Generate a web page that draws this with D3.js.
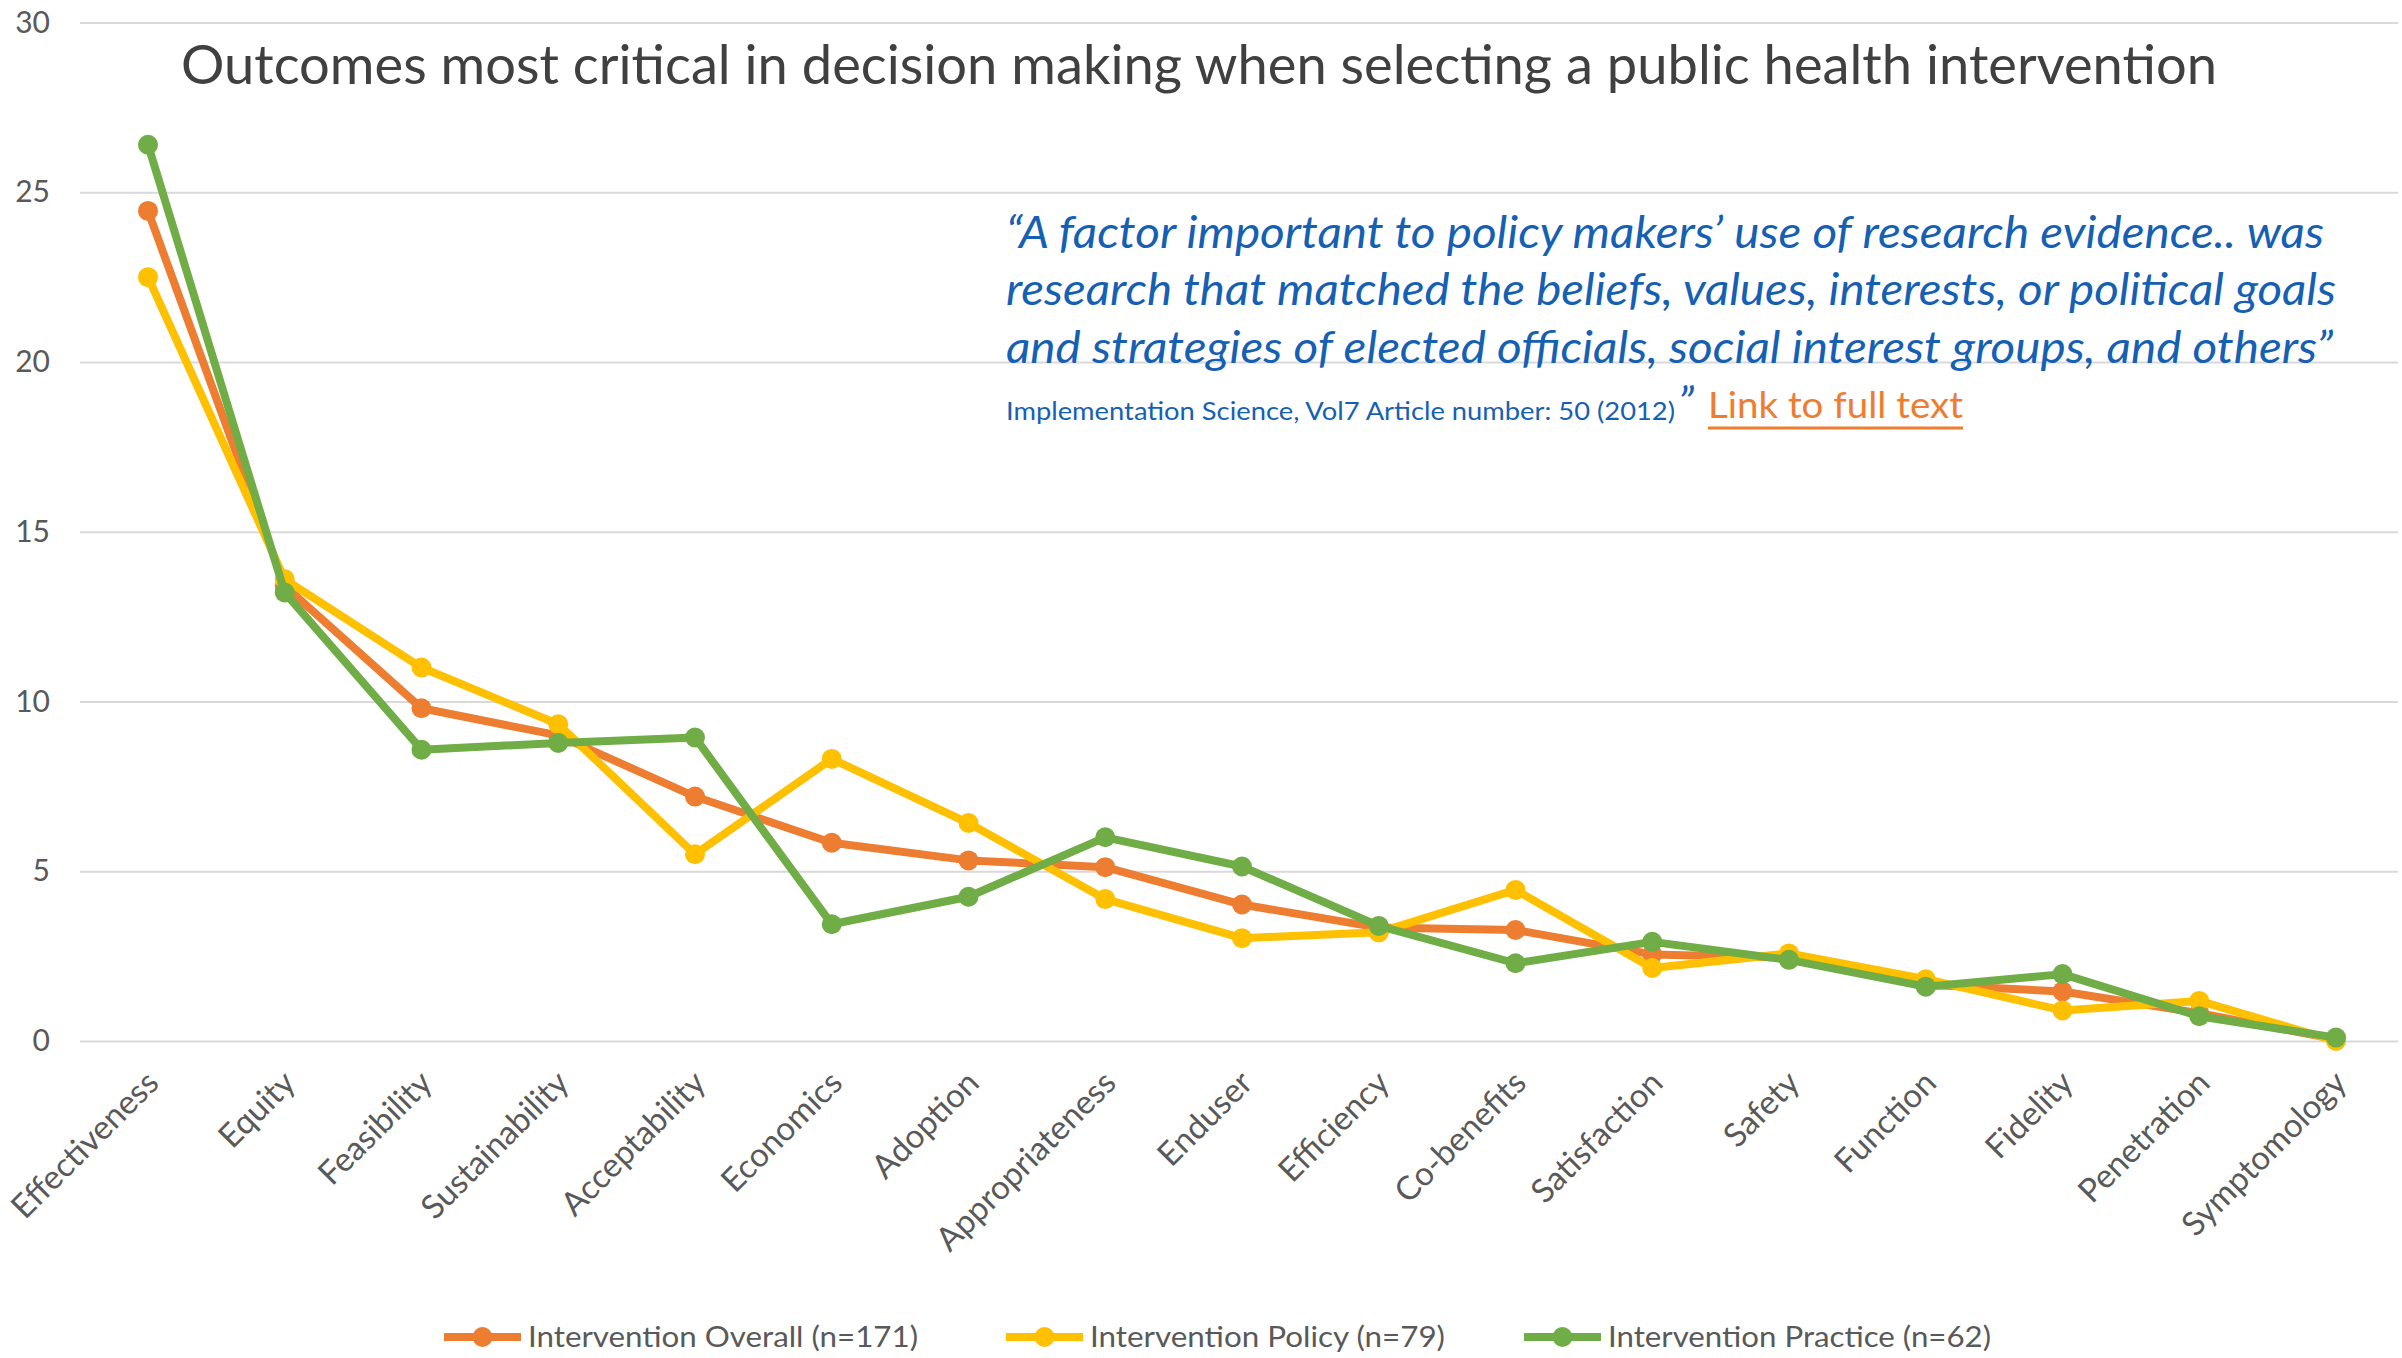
<!DOCTYPE html>
<html>
<head>
<meta charset="utf-8">
<script src="https://cdn.jsdelivr.net/npm/d3@7"></script>
<style>
  html, body { margin: 0; padding: 0; background: #fff; }
  svg { display: block; }
  text { font-family: Lato, "Open Sans", sans-serif; }
</style>
</head>
<body>
<svg id="chart" width="2402" height="1358"></svg>
<script>
const categories = ["Effectiveness","Equity","Feasibility","Sustainability","Acceptability","Economics","Adoption","Appropriateness","Enduser","Efficiency","Co-benefits","Satisfaction","Safety","Function","Fidelity","Penetration","Symptomology"];
const overall  = [24.45, 13.4, 9.8, 9.0, 7.2, 5.84, 5.32, 5.12, 4.02, 3.34, 3.27, 2.55, 2.45, 1.66, 1.46, 0.82, 0.05];
const policy   = [22.5, 13.6, 11.0, 9.33, 5.5, 8.31, 6.42, 4.18, 3.03, 3.2, 4.45, 2.15, 2.58, 1.82, 0.9, 1.18, 0.0];
const practice = [26.4, 13.21, 8.58, 8.78, 8.94, 3.44, 4.25, 6.0, 5.14, 3.39, 2.29, 2.92, 2.39, 1.6, 1.97, 0.73, 0.1];
const yTicks = [0, 5, 10, 15, 20, 25, 30];
const seriesNames = ["Intervention Overall (n=171)", "Intervention Policy (n=79)", "Intervention Practice (n=62)"];
const seriesColors = ["#ED7D31", "#FFC000", "#70AD47"];
const titleText = "Outcomes most critical in decision making when selecting a public health intervention";
const quoteLines = [
  "\u201CA factor important to policy makers\u2019 use of research evidence.. was",
  "research that matched the beliefs, values, interests, or political goals",
  "and strategies of elected officials, social interest groups, and others\u201D"
];
const citation = "Implementation Science, Vol7 Article number: 50 (2012)";
const linkText = "Link to full text";

const svg = d3.select("#chart");
const gridLeft = 80, gridRight = 2398;

const x = d3.scalePoint().domain(categories).range([148, 2336]);
const y = d3.scaleLinear().domain([0, 30]).range([1041, 22.5]);

// gridlines + y labels
const yAxis = d3.axisLeft(y).tickValues(yTicks).tickSize(-(gridRight - gridLeft)).tickPadding(30);
const gy = svg.append("g").attr("transform", `translate(${gridLeft},0)`).call(yAxis);
gy.select(".domain").remove();
gy.selectAll(".tick line").attr("stroke", "#D9D9D9").attr("stroke-width", 2);
gy.selectAll(".tick text").attr("fill", "#595959").style("font-size", "30px").style("font-family", "Lato, sans-serif");

// x labels
const xAxis = d3.axisBottom(x).tickSize(0).tickPadding(0);
const gx = svg.append("g").attr("transform", `translate(0,${y(0)})`).call(xAxis);
gx.select(".domain").remove();
gx.selectAll(".tick text")
  .attr("fill", "#595959")
  .style("font-size", "33px")
  .style("font-family", "Lato, sans-serif")
  .attr("text-anchor", "end")
  .attr("x", 0).attr("y", 0).attr("dy", 0)
  .attr("transform", "translate(12,44) rotate(-45)");

// title
svg.append("text")
  .attr("x", 181).attr("y", 84)
  .attr("fill", "#404040")
  .style("font-size", "54px")
  .style("font-weight", 400)
  .attr("textLength", 2036).attr("lengthAdjust", "spacingAndGlyphs")
  .text(titleText);

// quote
const qWidths = [1318, 1330, 1327];
const qBase = [248, 305, 363];
quoteLines.forEach((t, i) => {
  svg.append("text")
    .attr("x", 1006).attr("y", qBase[i])
    .attr("fill", "#1660B4")
    .style("font-size", "44px").style("font-style", "italic")
    .attr("textLength", qWidths[i]).attr("lengthAdjust", "spacingAndGlyphs")
    .text(t);
});
svg.append("text")
  .attr("x", 1006).attr("y", 420)
  .attr("fill", "#1660B4")
  .style("font-size", "25px")
  .attr("textLength", 669).attr("lengthAdjust", "spacingAndGlyphs")
  .text(citation);
svg.append("text")
  .attr("x", 1678).attr("y", 420)
  .attr("fill", "#1660B4")
  .style("font-size", "46px").style("font-style", "italic")
  .text("\u201D");
svg.append("text")
  .attr("x", 1708).attr("y", 418)
  .attr("fill", "#ED7D31")
  .style("font-size", "37px")
  .attr("textLength", 255).attr("lengthAdjust", "spacingAndGlyphs")
  .text(linkText);
svg.append("line")
  .attr("x1", 1708).attr("x2", 1963).attr("y1", 428).attr("y2", 428)
  .attr("stroke", "#ED7D31").attr("stroke-width", 3);

// series
const allSeries = [overall, policy, practice];
const line = d3.line().x((d, i) => x(categories[i])).y(d => y(d));
allSeries.forEach((vals, si) => {
  const g = svg.append("g");
  g.append("path").datum(vals)
    .attr("d", line)
    .attr("fill", "none")
    .attr("stroke", seriesColors[si])
    .attr("stroke-width", 8)
    .attr("stroke-linejoin", "round");
  g.selectAll("circle").data(vals).join("circle")
    .attr("cx", (d, i) => x(categories[i]))
    .attr("cy", d => y(d))
    .attr("r", 10)
    .attr("fill", seriesColors[si]);
});

// legend
const legX = [444, 1006, 1524];
const legW = [390, 355, 383];
const legY = 1337;
seriesNames.forEach((name, i) => {
  const g = svg.append("g");
  g.append("line")
    .attr("x1", legX[i]).attr("x2", legX[i] + 77)
    .attr("y1", legY).attr("y2", legY)
    .attr("stroke", seriesColors[i]).attr("stroke-width", 8);
  g.append("circle").attr("cx", legX[i] + 38.5).attr("cy", legY).attr("r", 10).attr("fill", seriesColors[i]);
  g.append("text")
    .attr("x", legX[i] + 84).attr("y", legY + 10)
    .attr("fill", "#595959")
    .style("font-size", "29px")
    .attr("textLength", legW[i]).attr("lengthAdjust", "spacingAndGlyphs")
    .text(name);
});
</script>
</body>
</html>
